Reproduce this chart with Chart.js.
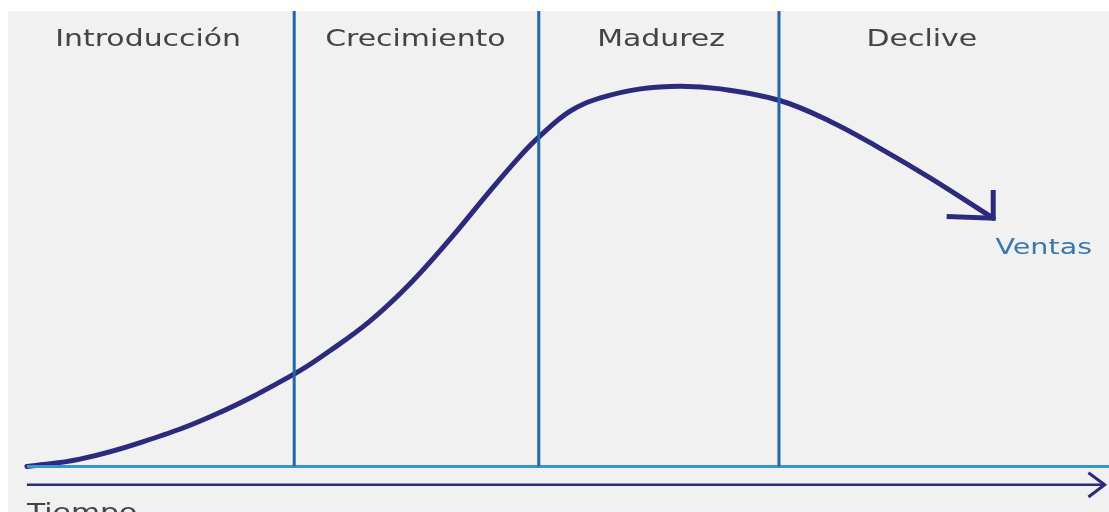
<!DOCTYPE html>
<html>
<head>
<meta charset="utf-8">
<script src="https://cdn.jsdelivr.net/npm/chart.js@4/dist/chart.umd.min.js"></script>
<style>
  html, body { margin: 0; padding: 0; background: #ffffff; }
  #wrap { width: 1109px; height: 512px; }
</style>
</head>
<body>
<div id="wrap"><canvas id="cycleChart"></canvas></div>
<script>
// Product life cycle: sales curve over time
const phases = ["Introducción", "Crecimiento", "Madurez", "Declive"];
const phaseBounds = [24.7, 47.3, 69.5];
const phaseCenters = [11.2, 35.9, 58.6, 82.7];

const tiempo = [0, 4.9, 10.7, 17.3, 24.7, 28.0, 31.7, 35.4, 39.1, 42.8, 45.6, 47.3, 50.2, 53.0, 56.7, 60.4, 64.1, 69.5, 74.2, 78.8, 83.5, 89.3];
const ventas = [0, 1.6, 5.4, 11.3, 20.3, 25.4, 31.9, 40.1, 49.9, 60.5, 68.2, 72.3, 78.0, 80.9, 82.9, 83.5, 82.9, 80.4, 75.8, 69.9, 63.3, 54.5];

const salesLabel = "Ventas";
const timeLabel = "Tiempo";

const navy = "#2b2a7c";
const phaseColor = "#2367a8";
const axisColor = "#3595cc";

const curve = tiempo.map((t, i) => ({ x: t, y: ventas[i] }));

const datasets = [];

// phase separators
phaseBounds.forEach(b => {
    datasets.push({
        data: [{ x: b, y: 0 }, { x: b, y: 100 }],
        borderColor: phaseColor,
        borderWidth: 3,
        pointRadius: 0,
        tension: 0
    });
});

// base axis (y = 0)
datasets.push({
    data: [{ x: 0, y: 0 }, { x: 100, y: 0 }],
    borderColor: axisColor,
    borderWidth: 3,
    pointRadius: 0
});

// time arrow
datasets.push({
    data: [{ x: 0, y: -4 }, { x: 99.6, y: -4 }],
    borderColor: navy,
    borderWidth: 2.5,
    pointRadius: 0
});
datasets.push({
    data: [{ x: 98.1, y: -1.4 }, { x: 99.6, y: -4 }, { x: 98.1, y: -6.7 }],
    borderColor: navy,
    borderWidth: 3,
    pointRadius: 0,
    tension: 0
});

// sales curve
datasets.push({
    data: curve,
    borderColor: navy,
    borderWidth: 5,
    pointRadius: 0,
    tension: 0.4,
    borderCapStyle: "round"
});

// arrow head at curve end
const last = curve[curve.length - 1];
datasets.push({
    data: [{ x: 85.0, y: 54.9 }, { x: last.x, y: last.y }, { x: last.x, y: 60.7 }],
    borderColor: navy,
    borderWidth: 5,
    pointRadius: 0,
    tension: 0,
    borderJoinStyle: "miter"
});

const panelBg = {
    id: "panelBg",
    beforeDraw(chart) {
        const { ctx, chartArea } = chart;
        ctx.save();
        ctx.fillStyle = "#f1f1f1";
        ctx.fillRect(chartArea.left, chartArea.top, chartArea.right - chartArea.left, chartArea.bottom - chartArea.top);
        ctx.restore();
    }
};

// text in the picture is wide, so stretch it a bit horizontally
function wideText(ctx, text, px, py, stretch) {
    ctx.save();
    ctx.translate(px, py);
    ctx.scale(stretch, 1);
    ctx.fillText(text, 0, 0);
    ctx.restore();
}

const labelsPlugin = {
    id: "labelsPlugin",
    afterDatasetsDraw(chart) {
        const { ctx, scales } = chart;
        const x = scales.x, y = scales.y;
        ctx.save();
        ctx.font = "23px 'DejaVu Sans'";
        ctx.fillStyle = "#444444";
        ctx.textAlign = "center";
        ctx.textBaseline = "middle";
        phases.forEach((p, i) => {
            wideText(ctx, p, x.getPixelForValue(phaseCenters[i]), y.getPixelForValue(93.6), 1.3);
        });

        ctx.fillStyle = "#3a77b0";
        ctx.font = "22px 'DejaVu Sans'";
        ctx.textAlign = "left";
        wideText(ctx, salesLabel, x.getPixelForValue(89.5), y.getPixelForValue(48.0), 1.3);

        ctx.fillStyle = "#444444";
        ctx.font = "23px 'DejaVu Sans'";
        ctx.textBaseline = "top";
        wideText(ctx, timeLabel, x.getPixelForValue(0), y.getPixelForValue(-8.0), 1.3);
        ctx.restore();
    }
};

new Chart(document.getElementById("cycleChart"), {
    type: "line",
    data: { datasets },
    options: {
        responsive: true,
        maintainAspectRatio: false,
        animation: false,
        layout: { padding: { left: 8, top: 11, right: 0, bottom: 0 } },
        plugins: { legend: { display: false }, tooltip: { enabled: false } },
        scales: {
            x: { type: "linear", min: -1.75, max: 100, display: false },
            y: { type: "linear", min: -10, max: 100, display: false }
        }
    },
    plugins: [panelBg, labelsPlugin]
});
</script>
</body>
</html>
